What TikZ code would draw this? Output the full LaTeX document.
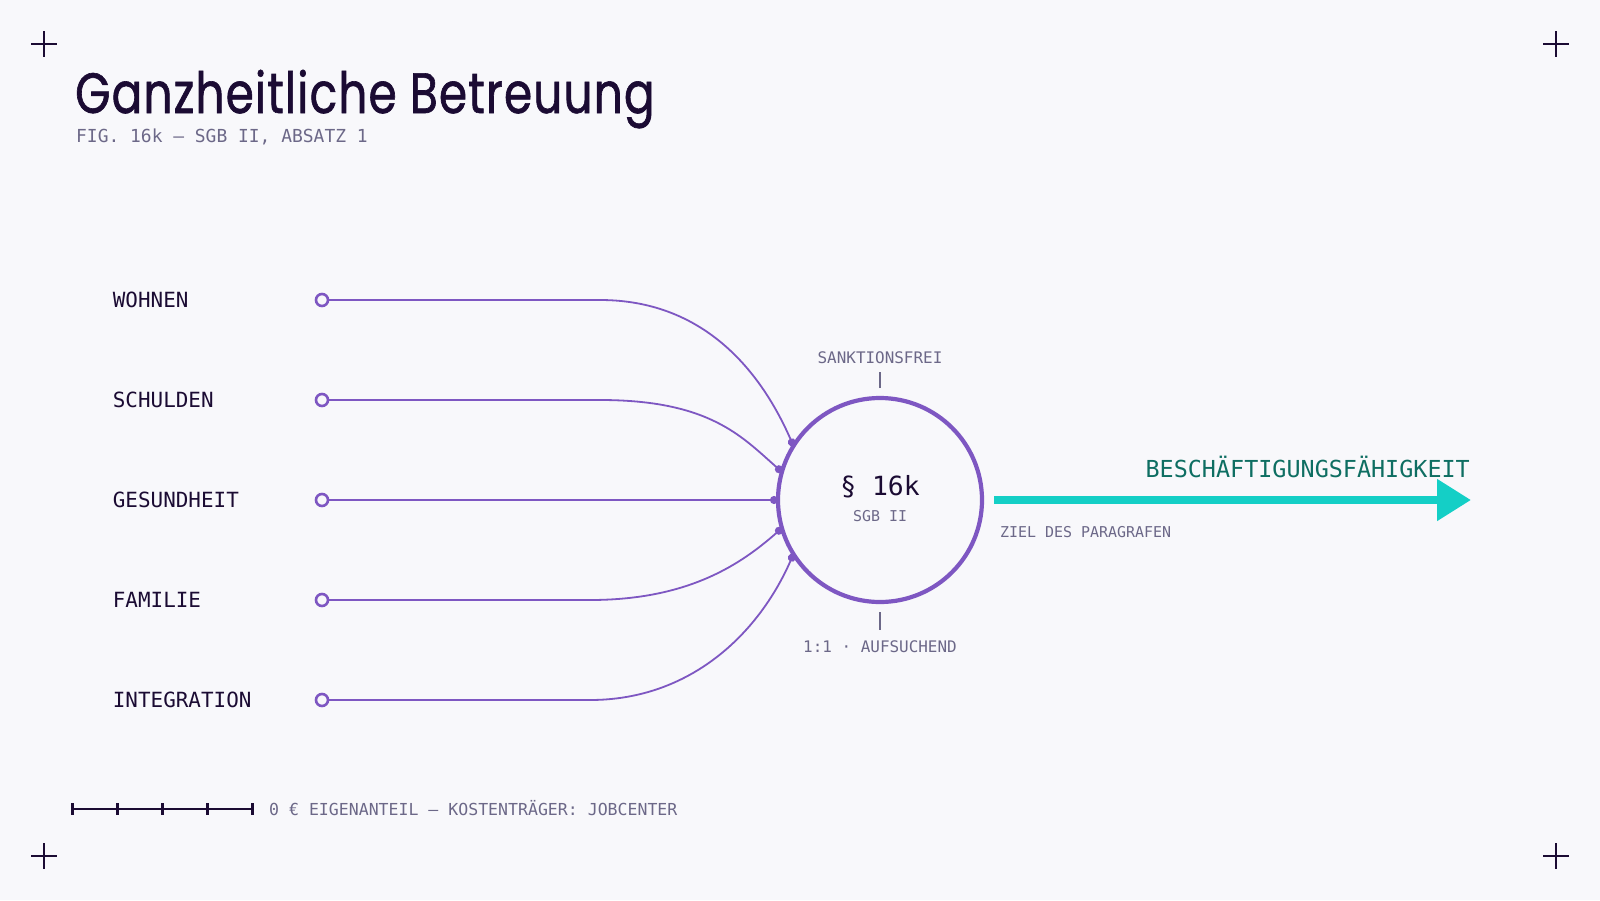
\documentclass[tikz,border=0pt]{standalone}
\usepackage{fontspec}
\setmainfont{DejaVu Sans Mono}
\newfontfamily\titlefont[FakeStretch=0.8,FakeBold=1.1,LetterSpace=2]{Poppins}
\usetikzlibrary{arrows.meta}
\definecolor{paper}{HTML}{F8F8FB}
\definecolor{ink}{HTML}{1B0B33}
\definecolor{slate}{HTML}{6C6888}
\definecolor{lilac}{HTML}{7E57C2}
\definecolor{aqua}{HTML}{14CFC6}
\definecolor{deepteal}{HTML}{0E6E62}
\newcommand{\fs}[1]{\fontsize{#1}{#1}\selectfont}
\begin{document}
\begin{tikzpicture}[x=1bp,y=-1bp,
  topic/.style={anchor=base west,inner sep=0,text=ink,font=\fs{21}},
  port/.style={circle,draw=lilac,line width=2.6bp,fill=paper,minimum size=12bp,inner sep=0},
  link/.style={draw=lilac,line width=1.8bp,-{Circle[length=8bp]}},
  note/.style={anchor=base,inner sep=0,text=slate,font=\fs{16}},
  pin/.style={draw=slate,line width=1.2bp},
  crosshair/.style={draw=ink,line width=2bp},
  ruler/.style={draw=ink,line width=2.5bp}]
\fill[paper] (0,0) rectangle (1600,900);
\useasboundingbox (0,0) rectangle (1600,900);
%
\draw[crosshair] (31,44) -- (57,44) (44,31) -- (44,57);
\draw[crosshair] (1543,44) -- (1569,44) (1556,31) -- (1556,57);
\draw[crosshair] (31,856) -- (57,856) (44,843) -- (44,869);
\draw[crosshair] (1543,856) -- (1569,856) (1556,843) -- (1556,869);
%
\node at (75,113) [anchor=base west,inner sep=0,text=ink,font=\titlefont\fs{57}] (title) {Ganzheitliche Betreuung};
\node at (76,142) [anchor=base west,inner sep=0,text=slate,font=\fs{18}] (subtitle) {FIG. 16k — SGB II, ABSATZ 1};
%
\node at (112.7,307.5) [topic] (wohnen) {WOHNEN};
\node at (112.7,407.5) [topic] (schulden) {SCHULDEN};
\node at (112.7,507.5) [topic] (gesundheit) {GESUNDHEIT};
\node at (112.7,607.5) [topic] (familie) {FAMILIE};
\node at (112.7,707.5) [topic] (integration) {INTEGRATION};
%
\node at (880,500) [circle,draw=lilac,line width=4.2bp,minimum size=204bp,inner sep=0,outer sep=0] (hub) {};
\node at (880,495) [anchor=base,inner sep=0,text=ink,font=\fs{26.5}] (para) {§ 16k};
\node at (880,521) [anchor=base,inner sep=0,text=slate,font=\fs{15}] (law) {SGB II};
\node at (880,363) [note] (sanktion) {SANKTIONSFREI};
\node at (880,652) [note] (aufsuchend) {1:1 · AUFSUCHEND};
\draw[pin] ([yshift=10bp]hub.north) -- ([yshift=26bp]hub.north);
\draw[pin] ([yshift=-10bp]hub.south) -- ([yshift=-28bp]hub.south);
%
\draw[link] (322,300) -- ++(278,0) .. controls +(100,0) and +(-35,-80) .. (hub.148);
\draw[link] (322,400) -- ++(278,0) .. controls +(110,0) and +(-40,-35) .. (hub.164);
\draw[link] (322,500) -- (hub.180);
\draw[link] (322,600) -- ++(268,0) .. controls +(100,0) and +(-40,35) .. (hub.196);
\draw[link] (322,700) -- ++(268,0) .. controls +(100,0) and +(-35,80) .. (hub.212);
%
\node at (322,300) [port] (pw) {};
\node at (322,400) [port] (ps) {};
\node at (322,500) [port] (pg) {};
\node at (322,600) [port] (pf) {};
\node at (322,700) [port] (pi) {};
%
\coordinate (goal) at (1471,500);
\draw[draw=aqua,line width=8bp,shorten <=12bp,-{Triangle[length=34bp,width=40bp]}] (hub.east) -- (goal);
\node at (1470,477) [anchor=base east,inner sep=0,text=deepteal,font=\fs{23.5}] (ziel) {BESCHÄFTIGUNGSFÄHIGKEIT};
\node at (1000,537) [anchor=base west,inner sep=0,text=slate,font=\fs{15}] (zielnote) {ZIEL DES PARAGRAFEN};
%
\draw[ruler] (72.7,809) -- (252.7,809);
\draw[ruler] (72.7,803) -- (72.7,815);
\draw[ruler] (117.7,803) -- (117.7,815);
\draw[ruler] (162.7,803) -- (162.7,815);
\draw[ruler] (207.7,803) -- (207.7,815);
\draw[ruler] (252.7,803) -- (252.7,815);
\node at (269,815) [anchor=base west,inner sep=0,text=slate,font=\fs{16.6}] (footer) {0 € EIGENANTEIL — KOSTENTRÄGER: JOBCENTER};
\end{tikzpicture}
\end{document}
